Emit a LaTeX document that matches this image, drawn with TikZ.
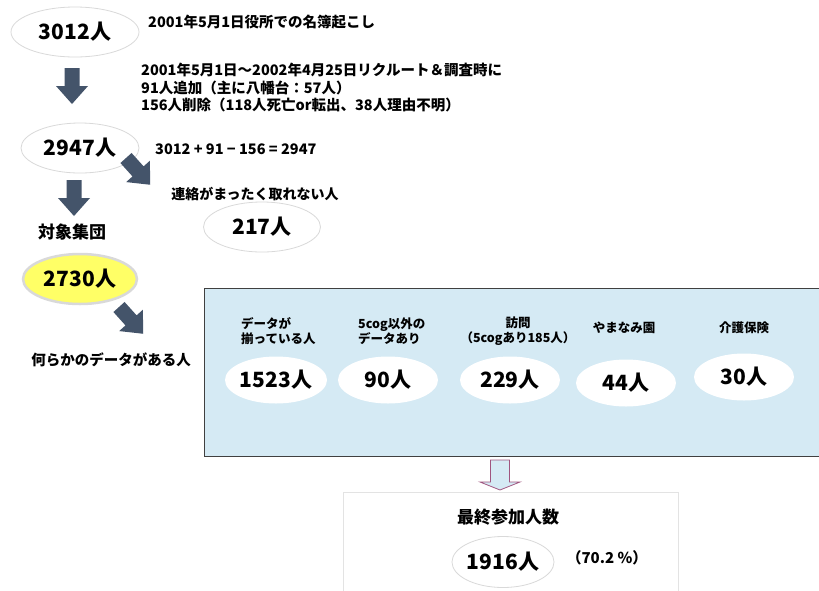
\documentclass[tikz,border=0pt]{standalone}
\usepackage{fontspec}
\setmainfont{Noto Sans CJK JP}
\usetikzlibrary{shapes.geometric}
\definecolor{arrowcol}{HTML}{44546A}
\definecolor{boxblue}{HTML}{D5EAF4}
\definecolor{ellgray}{HTML}{D9D9D9}
\definecolor{yel}{HTML}{FFFF66}
\definecolor{mauve}{HTML}{A0557F}
\definecolor{panelline}{HTML}{404040}
\definecolor{lightline}{HTML}{E3E3E3}
\tikzset{
  num/.style={font=\fontsize{21}{24}\selectfont\bfseries},
  lbl/.style={font=\fontsize{14.5}{17.5}\selectfont\bfseries, inner sep=0pt},
  small/.style={font=\fontsize{12.5}{14.5}\selectfont\bfseries, inner sep=0pt},
  big/.style={font=\fontsize{17}{20}\selectfont\bfseries, inner sep=0pt},
  oval/.style={ellipse, draw=ellgray, fill=white, line width=0.8pt, inner sep=0pt},
  whiteoval/.style={ellipse, fill=white, inner sep=0pt, minimum width=100, minimum height=47},
  darrow/.pic={\fill[arrowcol] (-7.5,0) -- (-7.5,18) -- (-16,18) -- (0,36) -- (16,18) -- (7.5,18) -- (7.5,0) -- cycle;},
  oarrow/.pic={\draw[mauve, fill=boxblue, line width=0.8pt, line join=miter] (-9.5,0) -- (-9.5,22) -- (-20,22) -- (0,30) -- (20,22) -- (9.5,22) -- (9.5,0) -- cycle;}
}
\begin{document}
\begin{tikzpicture}[x=1pt,y=-1pt]
\useasboundingbox (0,0) rectangle (819,590);
\fill[white] (0,0) rectangle (819,590);

% top part
\node[oval, minimum width=128, minimum height=50, num] (n3012) at (75,32) {3012人};
\node[lbl, anchor=west] (t1) at (148,22) {2001年5月1日役所での名簿起こし};
\pic at (72,68) {darrow};
\node[lbl, anchor=west, align=left] (t2) at (141,88) {2001年5月1日〜2002年4月25日リクルート＆調査時に\\91人追加（主に八幡台：57人）\\156人削除（118人死亡or転出、38人理由不明）};

\node[oval, minimum width=118, minimum height=50, num] (n2947) at (80,148) {2947人};
\node[lbl, anchor=west] (eq) at (155,149) {3012 + 91 − 156 = 2947};
\pic[rotate=42] at (126,158) {darrow};
\pic at (74,180) {darrow};

\node[big] (grp) at (72,232) {対象集団};
\node[lbl, font=\fontsize{14}{17}\selectfont\bfseries] (t3) at (255,194) {連絡がまったく取れない人};
\node[oval, minimum width=117, minimum height=50, num] (n217) at (262,227) {217人};

\node[ellipse, draw=ellgray, line width=2.5pt, fill=yel, inner sep=0pt, minimum width=114, minimum height=50, num] (n2730) at (80,279) {2730人};
\pic[rotate=42] at (119,307) {darrow};
\node[lbl] (t4) at (111,360) {何らかのデータがある人};

% panel
\fill[boxblue] (204,288) rectangle (819,456);
\draw[panelline, line width=0.8pt] (819,288) -- (204,288) -- (204,456) -- (819,456);
\coordinate (panel) at (511,372);

\node[small, anchor=west, align=left] (l1) at (241,331) {データが\\揃っている人};
\node[small, anchor=west, align=left] (l2) at (358,331) {5cog以外の\\データあり};
\node[small, align=center] (l3) at (518,331) {訪問\\（5cogあり185人）};
\node[small] (l4) at (624,328) {やまなみ園};
\node[small] (l5) at (744,328) {介護保険};

\node[whiteoval, num] (e1) at (276,380) {1523人};
\node[whiteoval, num] (e2) at (388,380) {90人};
\node[whiteoval, num] (e3) at (510,380) {229人};
\node[whiteoval, num] (e4) at (626,383) {44人};
\node[whiteoval, num] (e5) at (744,377) {30人};

% bottom
\pic at (500,460) {oarrow};
\draw[lightline, fill=white, line width=0.8pt] (343,600) -- (343,492) -- (678,492) -- (678,600);
\node[big] (fin) at (508,517) {最終参加人数};
\node[oval, minimum width=102, minimum height=51, num] (n1916) at (503,562) {1916人};
\node[lbl, font=\fontsize{15}{18}\selectfont\bfseries] (pct) at (607,558) {（70.2 \%）};
\end{tikzpicture}
\end{document}
